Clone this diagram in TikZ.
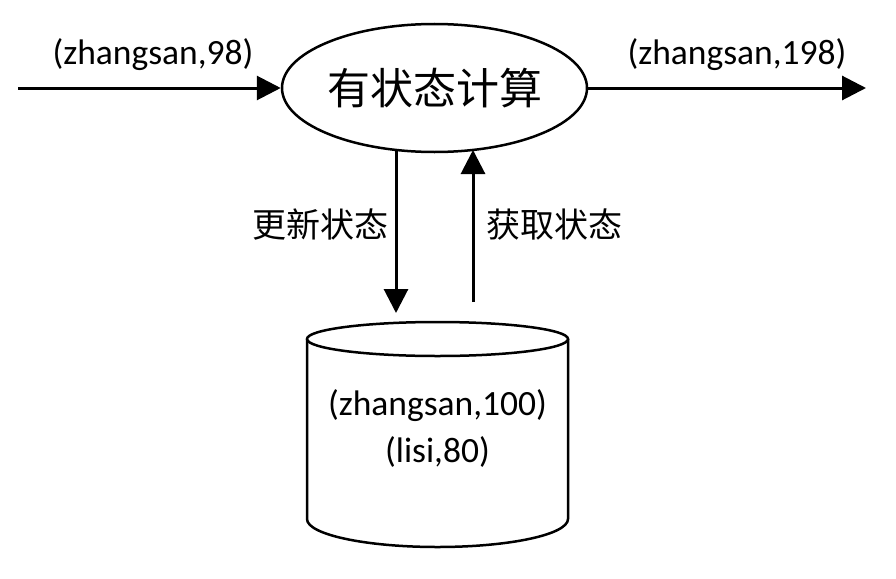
\documentclass[tikz,border=0pt]{standalone}
\usepackage{fontspec}
\setmainfont{Carlito}
\newfontfamily\cjk{Noto Sans CJK SC}
\usetikzlibrary{arrows.meta,shapes.geometric}
\begin{document}
\begin{tikzpicture}[x=1pt,y=-1pt,
  arr/.style={line width=3pt,-{Triangle[length=24pt,width=24pt]}},
  lbl/.style={font=\fontsize{35.5}{47}\selectfont, inner sep=0pt},
  cn/.style={font=\cjk\fontsize{34}{40}\selectfont, inner sep=0pt},
  outline/.style={line width=2.5pt}]
\useasboundingbox (0,0) rectangle (896,578);
\node[ellipse, draw, outline, minimum width=305pt, minimum height=128pt, inner sep=0pt,
      font=\cjk\fontsize{43}{50}\selectfont] (ell) at (434.5,88) {有状态计算};
\coordinate (in) at (18,88);
\coordinate (out) at (866,88);
\draw[arr] (in) -- (ell.west);
\draw[arr] (ell.east) -- (out);
\node[lbl] (l1) at (153,55) {(zhangsan,98)};
\node[lbl] (l2) at (737,55) {(zhangsan,198)};
\path (ell.center) ++(-38.5,62) coordinate (dtop);
\coordinate (dbot) at (396,313);
\draw[arr] (dtop) -- (dbot);
\coordinate (ubot) at (473,302);
\path (ell.center) ++(38.5,62) coordinate (utop);
\draw[arr] (ubot) -- (utop);
\node[cn] (u1) at (320,225) {更新状态};
\node[cn] (u2) at (554,225) {获取状态};
\draw[outline] (437.5,339) ellipse [x radius=130.5, y radius=17];
\draw[outline] (307,339) -- (307,519) arc[start angle=180, end angle=360, x radius=130.5pt, y radius=28pt] -- (568,339);
\node[lbl, align=center] (db) at (437.5,428.5) {(zhangsan,100)\\(lisi,80)};
\end{tikzpicture}
\end{document}
